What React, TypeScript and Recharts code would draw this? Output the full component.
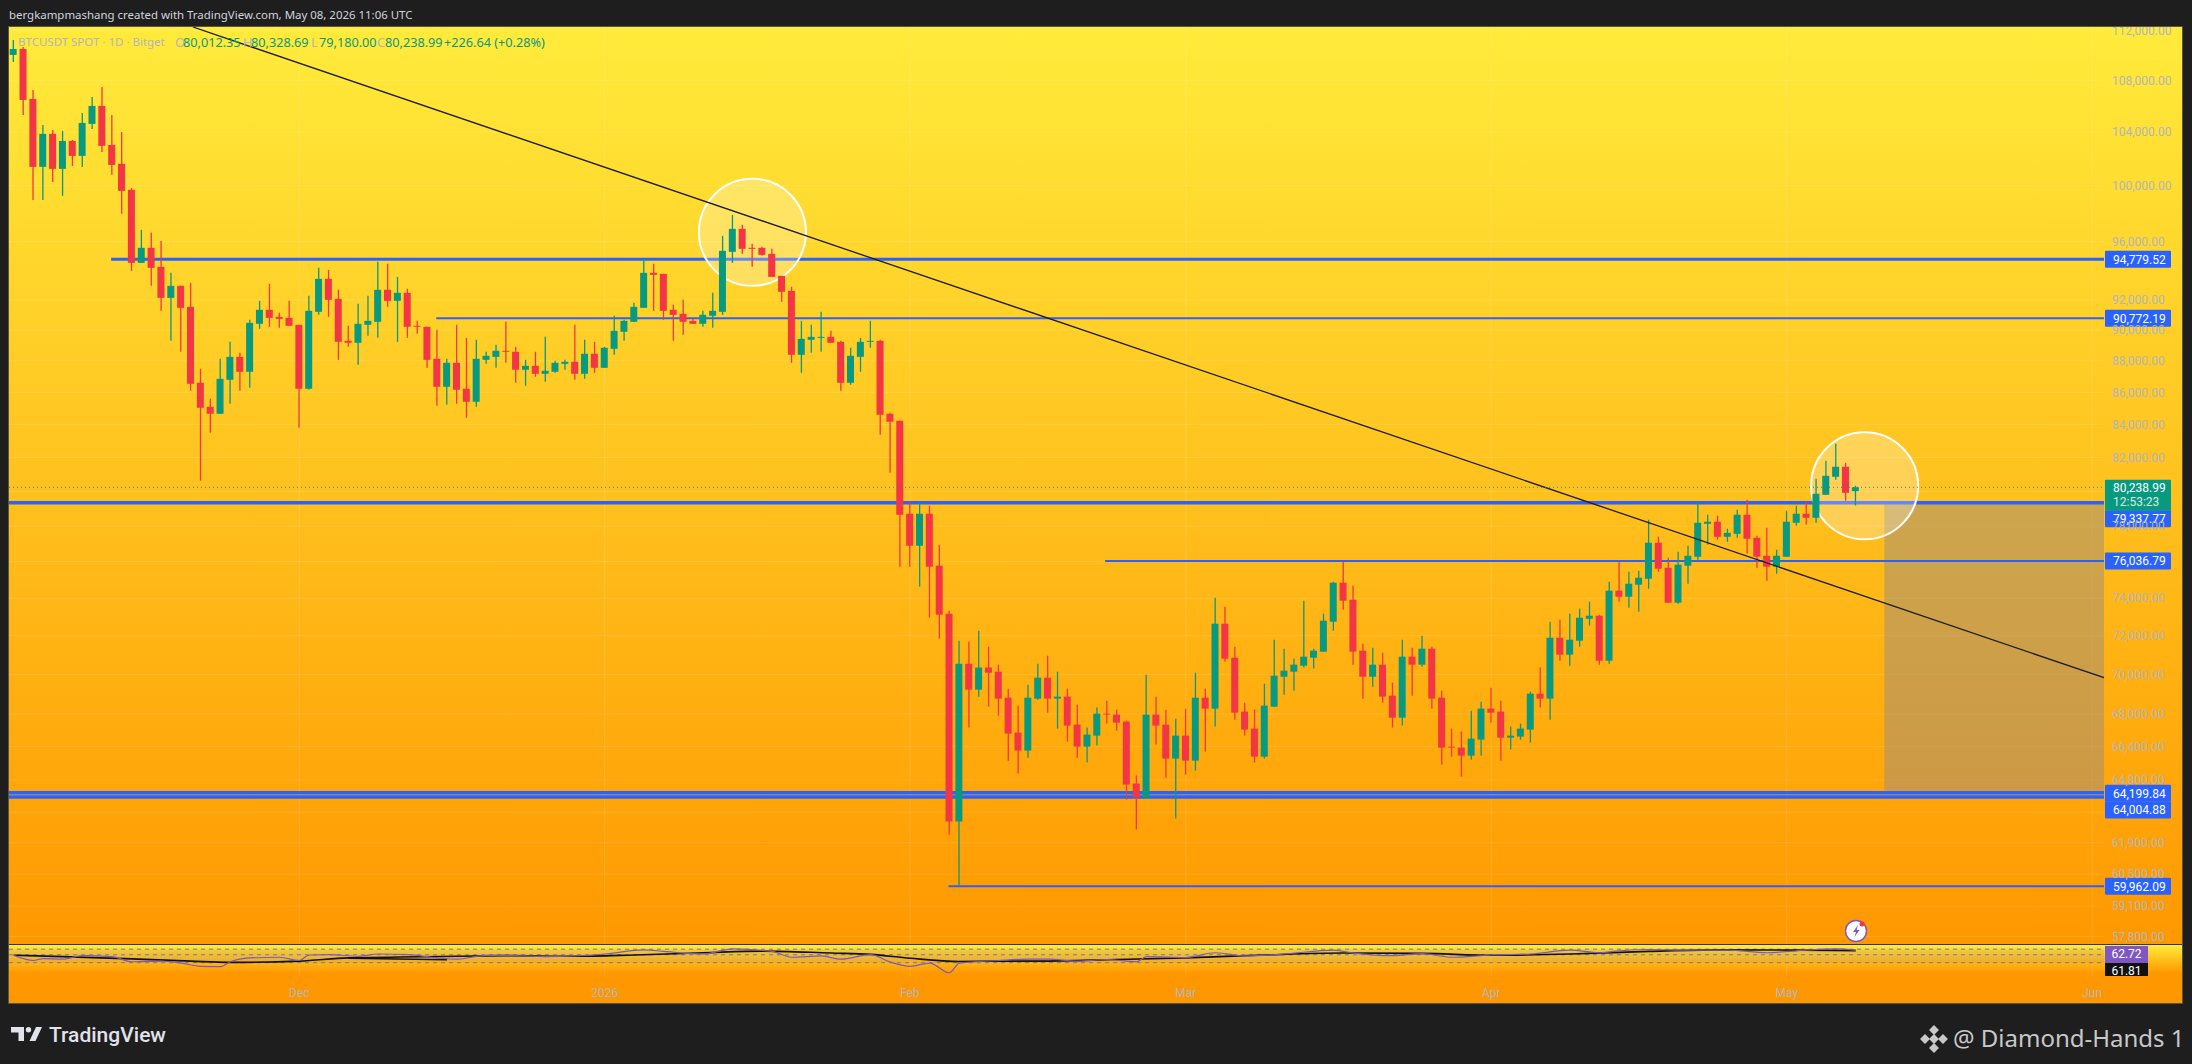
import {
  ComposedChart,
  Bar,
  Line,
  Cell,
  XAxis,
  YAxis,
  CartesianGrid,
  ReferenceLine,
  ReferenceArea,
  ReferenceDot,
} from 'recharts';

// daily candles, day 0 = Nov 2 2025
const opens = [
  110020, 110500, 106540, 101386, 103857, 101239, 103324, 102202, 104617, 106000,
  103025, 101607, 99699, 94525, 95567, 94251, 92141, 92953, 91539, 86601,
  85098, 84664, 86790, 88256, 87300, 90410, 91339, 90872, 90805, 90344,
  86224, 91205, 93427, 92073, 89295, 89166, 90344, 90541, 92683, 91939,
  92480, 90278, 90213, 88130, 86350, 87874, 86224, 85408, 88065, 88256,
  88648, 88583, 87427, 87682, 87172, 87300, 87810, 87937, 87172, 88454,
  87555, 88777, 89885, 90541, 91472, 93839, 93771, 91339, 91072, 90606,
  90410, 90939, 91205, 95288, 96901, 95567, 95567, 95149, 93630, 92615,
  88389, 89360, 89490, 89555, 89230, 86601, 88256, 89230, 89295, 84664,
  84232, 78705, 76890, 78705, 75776, 73166, 62866, 70545, 69220, 70346,
  70134, 68816, 67084, 66208, 68766, 69826, 68766, 68867, 67476, 66401,
  66936, 68019, 67970, 67623, 64632, 63973, 67970, 67476, 65821, 66936,
  65725, 68816, 68268, 72634, 70854, 68119, 67280, 65916, 68367, 69877,
  70134, 70442, 70854, 71166, 72739, 74840, 73918, 71218, 69877, 70494,
  68916, 67820, 70906, 70494, 71322, 68816, 66401, 66353, 65964, 66740,
  68268, 68119, 66838, 66887, 67231, 69019, 68766, 71895, 71010, 71738,
  72898, 73059, 70699, 74405, 74080, 74731, 75058, 77057, 75665, 73756,
  75776, 76273, 78133, 78247, 77393, 77560, 78648, 77337, 76328, 75720,
  76273, 78190, 78705, 78474, 79802, 80857, 81453, 80012.35,
];
const highs = [
  111225, 110660, 107245, 104541, 104161, 104085, 103399, 105461, 106698, 107480,
  105307, 104009, 99845, 96831, 96619, 96054, 93839, 92953, 93156, 87491,
  85595, 88130, 89230, 88518, 90672, 91939, 93089, 91139, 91939, 90344,
  92276, 94182, 94045, 92683, 90278, 91739, 92276, 94594, 94457, 93562,
  92750, 90606, 90213, 90016, 88130, 90344, 89490, 89360, 88583, 89036,
  90541, 88906, 88065, 88583, 89555, 88001, 88065, 90344, 89360, 89230,
  88906, 90939, 90672, 91806, 94800, 94457, 93771, 91672, 92006, 90739,
  91272, 92480, 96407, 97893, 97184, 95846, 95637, 95497, 93630, 92886,
  90606, 90344, 91205, 89950, 89295, 88842, 89490, 90606, 89360, 84726,
  84232, 79398, 79340, 79167, 76946, 73327, 71738, 71686, 72264, 71426,
  70494, 69270, 68417, 69473, 70545, 70958, 70134, 69270, 68467, 67329,
  68318, 68666, 68218, 67672, 65010, 69978, 68867, 68218, 67770, 68268,
  70083, 69270, 74026, 73542, 71426, 68567, 68218, 69523, 71790, 71322,
  70802, 73864, 71322, 73166, 74894, 75997, 74677, 71582, 71374, 71114,
  69574, 71790, 71374, 72000, 71426, 69170, 67280, 67132, 68168, 68617,
  69321, 68666, 67378, 67525, 69120, 70346, 72739, 72845, 73166, 73435,
  73811, 73112, 74894, 75997, 75445, 75500, 78360, 77393, 76217, 76553,
  76890, 79398, 78648, 78590, 77850, 78937, 79513, 77449, 77906, 76666,
  78880, 79167, 79398, 80740, 81809, 82830, 81690, 80328.69,
];
const lows = [
  109455, 105307, 98970, 98970, 100281, 99262, 101460, 101386, 104237, 102501,
  100796, 97968, 93976, 94525, 92953, 91272, 89295, 88583, 86098, 80624,
  83499, 84664, 85284, 86098, 86287, 90082, 90213, 90147, 90278, 83804,
  86161, 91005, 90872, 88065, 88906, 87746, 89622, 89490, 91539, 89230,
  89490, 89754, 87555, 85160, 85222, 85284, 84416, 85098, 87810, 87555,
  87874, 86601, 86413, 86979, 86664, 87236, 87427, 86790, 86853, 87236,
  87555, 88389, 89295, 90541, 91472, 91272, 90672, 89295, 89688, 90410,
  90213, 90147, 91005, 94525, 95149, 94251, 95009, 93562, 91873, 87874,
  87236, 88518, 88583, 89166, 86098, 86475, 87300, 88842, 83377, 81097,
  75720, 75720, 74623, 72952, 71843, 62268, 59998, 67329, 68867, 68367,
  67920, 65725, 65105, 65869, 68716, 68068, 67280, 66643, 65869, 65630,
  66450, 67525, 67181, 63881, 62500, 63973, 66498, 64914, 63003, 65055,
  65248, 66159, 67378, 70647, 67721, 66936, 65630, 65821, 68367, 68968,
  69170, 70346, 70296, 71166, 72264, 73381, 70494, 68766, 69371, 68567,
  67329, 67427, 68916, 70391, 68268, 65535, 65916, 64961, 65773, 65964,
  67574, 65725, 66256, 66740, 66595, 68318, 67721, 70699, 70442, 71426,
  72528, 70494, 70545, 73811, 73488, 73274, 74514, 75445, 73756, 73703,
  74786, 76107, 76946, 77225, 77113, 77337, 76442, 75665, 74949, 75334,
  76273, 78019, 78076, 78190, 79802, 80682, 79455, 79180,
];
const closes = [
  110500, 106462, 101386, 103857, 101239, 103324, 102202, 104693, 106000, 102950,
  101533, 99626, 94525, 95567, 94182, 92141, 92953, 91472, 86538, 85036,
  84664, 86853, 88256, 87300, 90477, 91339, 90805, 90739, 90278, 86224,
  91272, 93427, 92006, 89230, 89166, 90410, 90606, 92683, 91939, 92480,
  90213, 90213, 88065, 86350, 87874, 86161, 85408, 88130, 88324, 88648,
  88583, 87427, 87682, 87172, 87363, 87874, 87937, 87172, 88454, 87555,
  88842, 89950, 90606, 91539, 93839, 93702, 91272, 91005, 90541, 90410,
  91005, 91272, 95358, 96901, 95497, 95497, 95079, 93562, 92548, 88389,
  89425, 89555, 89555, 89166, 86601, 88324, 89230, 89295, 84602, 84171,
  78648, 76890, 78705, 75720, 73112, 62866, 70545, 69220, 70346, 70083,
  68766, 67035, 66208, 68816, 69826, 68766, 68867, 67427, 66401, 66985,
  68019, 67970, 67574, 64585, 63973, 67970, 67427, 65821, 66936, 65725,
  68816, 68268, 72634, 70802, 68068, 67231, 65916, 68417, 69927, 70186,
  70494, 70906, 71218, 72792, 74840, 73864, 71166, 69877, 70494, 68867,
  67820, 70906, 70494, 71322, 68766, 66353, 66353, 65964, 66789, 68268,
  68068, 66838, 66936, 67280, 69019, 68766, 71895, 71010, 71790, 72952,
  73059, 70699, 74405, 74080, 74786, 75114, 77057, 75610, 73756, 75831,
  76328, 78190, 78247, 77393, 77616, 78648, 77281, 76273, 75720, 76328,
  78247, 78705, 78474, 79860, 80916, 81453, 79917, 80238.99,
];

const priceTicks = [
  112000, 108000, 104000, 100000, 96000, 92000, 90000, 88000, 86000, 84000, 82000, 78000,
  74000, 72000, 70000, 68000, 66400, 64800, 61900, 60500, 59100, 57800,
];
const gridPrices = [...priceTicks, 80000, 76000, 63300];
const monthTicks = [29, 60, 91, 119, 150, 180, 211];
const monthLabels = ['Dec', '2026', 'Feb', 'Mar', 'Apr', 'May', 'Jun'];

const levelPrices = [94779.52, 90772.19, 79337.77, 76036.79, 64199.84, 64004.88, 59962.09];
const levelStartDays = [9.9, 42.9, -0.467, 110.8, -0.467, -0.467, 94.9];

const rsiDays = [
  0, 2, 3, 5, 7, 10, 12, 15, 17, 19, 21, 22, 24, 27, 29, 30, 32, 35, 37, 40, 43, 45, 48, 50, 54, 57,
  60, 64, 66, 70, 73, 77, 79, 82, 84, 87, 89, 91, 93, 95, 96, 100, 103, 105, 108, 111, 114, 115, 119,
  122, 125, 129, 134, 136, 140, 143, 146, 150, 154, 158, 161, 163, 166, 170, 174, 178, 181, 185, 187,
];
const rsiValues = [
  53, 43.2, 46.9, 45.7, 52.4, 50.5, 40.8, 42, 38.4, 32.3, 31.7, 40.8, 48.1, 49.3, 43.2, 53.6, 54.2, 51.1,
  55.4, 54.2, 48.1, 45.7, 53, 53, 50.5, 51.8, 55.4, 63.3, 60.3, 55.4, 65.1, 60.3, 49.3, 51.8, 45.7, 54.2,
  40.2, 32.3, 38.4, 20.1, 38.4, 43.2, 45.7, 45.7, 42, 45.1, 40.8, 50.5, 48.7, 57.8, 51.8, 55.4, 62.7, 57.2,
  52.4, 56, 49.3, 53.6, 55.4, 62.7, 57.8, 61.5, 63.9, 62.7, 62.7, 57.8, 61.5, 65.1, 62.72,
];
const maDays = [0, 5, 12, 18, 22, 29, 34, 45, 50, 57, 63, 70, 76, 83, 87, 91, 96, 100, 104, 112, 119, 127, 135, 143, 150, 158, 166, 173, 181, 187];
const maValues = [53, 50.5, 46.3, 42, 39.6, 42, 48.1, 51.1, 52.4, 51.1, 53.6, 57.8, 60.9, 57.2, 54.8, 47.5, 41.4, 42, 42, 45.1, 48.1, 53.6, 57.2, 56.6, 53, 55.4, 60.3, 63.3, 62.7, 61.81];
const sideDays = [34, 44];
const sideValues = [47.5, 44.5];
const rsiBands = [64.5, 54, 39];

const GREEN = '#089981';
const RED = '#f23645';
const BLUE = '#2962ff';
const AXIS_TEXT = '#b2b5be';
const FONT = 'Roboto, sans-serif';

const xDomain = [-0.467, 212.2];
const priceDomain = [57490, 112286];
const levelWidths = [3, 2, 3.6, 2, 3.5, 3.5, 2];
const tagOffsets = [0, 0, 16, 0, 0.5, 13, 0];

const candles = opens.map((open, i) => ({
  day: i,
  wick: [lows[i], highs[i]],
  body: [Math.min(open, closes[i]), Math.max(open, closes[i])],
  up: closes[i] >= open,
}));
const rsiLine = rsiDays.map((day, i) => ({ day, value: rsiValues[i] }));
const maLine = maDays.map((day, i) => ({ day, value: maValues[i] }));
const sideLine = sideDays.map((day, i) => ({ day, value: sideValues[i] }));

const money = (v: number) => v.toLocaleString('en-US', { minimumFractionDigits: 2, maximumFractionDigits: 2 });

function PriceTag({ viewBox, text, dy, fill }: any) {
  const y = viewBox.y + dy;
  return (
    <g>
      <rect x={2096} y={y - 8.5} width={66} height={17} fill={fill} rx={1} />
      <text x={2104} y={y + 4.5} fill="#fff" fontSize={12} fontFamily={FONT}>{text}</text>
    </g>
  );
}

function LastPriceTag({ viewBox }: any) {
  const y = viewBox.y;
  return (
    <g>
      <rect x={2096} y={y - 7.5} width={66} height={31} fill={GREEN} rx={1} />
      <text x={2104} y={y + 4.5} fill="#fff" fontSize={12} fontFamily={FONT}>80,238.99</text>
      <text x={2104} y={y + 18.5} fill="#d6ebe5" fontSize={12} fontFamily={FONT}>12:53:23</text>
    </g>
  );
}

function Legend() {
  const item = (label: string, value: string, left: number) => (
    <>
      <span style={{ position: 'absolute', left, color: AXIS_TEXT }}>{label}</span>
      <span style={{ position: 'absolute', left: left + 8, color: GREEN }}>{value}</span>
    </>
  );
  return (
    <div style={{ position: 'absolute', left: 9, top: 33, height: 18, lineHeight: '18px', fontSize: 12.7, fontFamily: '"Noto Sans", sans-serif', whiteSpace: 'nowrap' }}>
      <span style={{ position: 'absolute', left: 9, color: AXIS_TEXT, fontSize: 11.5 }}>BTCUSDT SPOT · 1D · Bitget</span>
      {item('O', '80,012.35', 166)}
      {item('H', '80,328.69', 234)}
      {item('L', '79,180.00', 302)}
      {item('C', '80,238.99', 368)}
      <span style={{ position: 'absolute', left: 435, color: GREEN }}>+226.64 (+0.28%)</span>
    </div>
  );
}

function Tag({ top, height, fill, text }: { top: number; height: number; fill: string; text: string }) {
  return (
    <div style={{ position: 'absolute', left: 2096, top, width: 43, height, background: fill, color: '#fff', fontSize: 12, fontFamily: FONT, lineHeight: '17px', textAlign: 'center', overflow: 'hidden' }}>
      {text}
    </div>
  );
}

export default function App() {
  return (
    <div style={{ position: 'absolute', left: 0, top: 0, width: 2192, height: 1064, background: '#1e1e1e', overflow: 'hidden' }}>
      <div style={{ position: 'absolute', left: 9, top: 6, fontSize: 11.45, lineHeight: '18px', color: '#d1d4dc', fontFamily: '"Noto Sans", sans-serif', whiteSpace: 'nowrap' }}>
        bergkampmashang created with TradingView.com, May 08, 2026 11:06 UTC
      </div>

      <div style={{ position: 'absolute', left: 9, top: 27, width: 2173, height: 976, overflow: 'hidden', boxShadow: '0 0 0 1px #55554a', background: '#ff9800' }}>
        <div style={{ position: 'absolute', left: 0, top: 0, width: 2173, height: 917, overflow: 'hidden', background: 'linear-gradient(#ffeb3b, #ff9800)' }}>
          <ComposedChart width={2173} height={917} data={candles} margin={{ top: 0, right: 0, bottom: 0, left: 0 }}>
            <XAxis xAxisId="wick" dataKey="day" type="number" domain={xDomain} allowDataOverflow hide />
            <XAxis xAxisId="body" dataKey="day" type="number" domain={xDomain} allowDataOverflow hide />
            <YAxis
              orientation="right"
              width={78}
              scale="log"
              domain={priceDomain}
              allowDataOverflow
              ticks={priceTicks}
              interval={0}
              axisLine={false}
              tickLine={false}
              tickSize={0}
              tickMargin={8}
              tickFormatter={money}
              tick={{ fill: AXIS_TEXT, fontSize: 12, fontFamily: FONT }}
            />
            <CartesianGrid xAxisId="body" stroke="rgba(255,255,255,0.13)" verticalValues={monthTicks} horizontalValues={gridPrices} />

            <ReferenceArea xAxisId="body" x1={189.9} x2={212.2} y1={64300} y2={79337.77} fill="rgba(155,140,125,0.5)" fillOpacity={1} stroke="none" ifOverflow="visible" zIndex={50} />

            {levelPrices.map((price, i) => (
              <ReferenceLine
                key={price}
                xAxisId="body"
                ifOverflow="visible"
                zIndex={100}
                segment={[{ x: levelStartDays[i], y: price }, { x: xDomain[1], y: price }]}
                stroke={BLUE}
                strokeWidth={levelWidths[i]}
                label={(props: any) => <PriceTag {...props} text={money(price)} dy={tagOffsets[i]} fill={BLUE} />}
              />
            ))}
            <ReferenceDot xAxisId="body" x={75} y={96660} r={53.5} fill="rgba(255,255,255,0.25)" stroke="#fff" strokeWidth={2} ifOverflow="visible" zIndex={200} />
            <ReferenceDot xAxisId="body" x={187.9} y={80328} r={53.5} fill="rgba(255,255,255,0.25)" stroke="#fff" strokeWidth={2} ifOverflow="visible" zIndex={200} />

            <Bar xAxisId="wick" dataKey="wick" barSize={1.3} isAnimationActive={false} zIndex={300}>
              {candles.map((c) => <Cell key={c.day} fill={c.up ? GREEN : RED} />)}
            </Bar>
            <Bar xAxisId="body" dataKey="body" barSize={7} isAnimationActive={false} zIndex={300}>
              {candles.map((c) => <Cell key={c.day} fill={c.up ? GREEN : RED} />)}
            </Bar>

            <ReferenceLine
              xAxisId="body"
              ifOverflow="visible"
              zIndex={400}
              segment={[{ x: 18.2, y: priceDomain[1] }, { x: xDomain[1], y: 69826 }]}
              stroke="#1c1c1c"
              strokeWidth={1.3}
            />
            <ReferenceLine
              xAxisId="body"
              ifOverflow="visible"
              zIndex={400}
              segment={[{ x: xDomain[0], y: closes[187] }, { x: xDomain[1], y: closes[187] }]}
              stroke={GREEN}
              strokeDasharray="1 3"
              label={(props: any) => <LastPriceTag {...props} />}
            />
          </ComposedChart>

          <svg style={{ position: 'absolute', left: 1836, top: 892 }} width={24} height={25}>
            <circle cx={11} cy={12} r={10.5} fill="#fff" stroke="#7e57c2" strokeWidth={1.5} />
            <path d="M13 6 L8 13 L11 13 L9.5 18 L14.5 11 L11.5 11 Z" fill="#7e57c2" />
            <circle cx={17} cy={5} r={2.5} fill="#f23645" />
          </svg>
        </div>

        <div style={{ position: 'absolute', left: 0, top: 917, width: 2173, height: 59, borderTop: '1px solid #333', boxSizing: 'border-box', background: 'linear-gradient(#ffeb3b 0, #ff9800 28px)' }}>
          <ComposedChart width={2173} height={58} margin={{ top: 0, right: 78, bottom: 0, left: 0 }}>
            <XAxis
              dataKey="day"
              type="number"
              domain={xDomain}
              allowDataOverflow
              height={27}
              ticks={monthTicks}
              interval={0}
              axisLine={false}
              tickLine={false}
              tickMargin={6}
              tickFormatter={(_v: number, i: number) => monthLabels[i]}
              tick={{ fill: AXIS_TEXT, fontSize: 12, fontFamily: FONT }}
            />
            <YAxis hide domain={[14, 72.4]} allowDataOverflow />
            <CartesianGrid stroke="rgba(255,255,255,0.13)" horizontal={false} verticalValues={monthTicks} />
            <ReferenceArea y1={rsiBands[2]} y2={rsiBands[0]} fill="rgba(126,87,194,0.13)" fillOpacity={1} stroke="none" />
            {rsiBands.map((band) => (
              <ReferenceLine key={band} y={band} stroke="#787b86" strokeDasharray="4 4" />
            ))}
            <Line data={maLine} dataKey="value" stroke="#111" strokeWidth={1.6} dot={false} type="monotone" isAnimationActive={false} />
            <Line data={sideLine} dataKey="value" stroke="#111" strokeWidth={1.6} dot={false} type="linear" isAnimationActive={false} />
            <Line data={rsiLine} dataKey="value" stroke="#7e57c2" strokeWidth={1.2} dot={false} type="monotone" isAnimationActive={false} />
          </ComposedChart>
        </div>

        <Tag top={919} height={17} fill="#7e57c2" text="62.72" />
        <Tag top={936} height={13} fill="#111" text="61.81" />
      </div>

      <Legend />

      <svg style={{ position: 'absolute', left: 0, top: 1020 }} width={50} height={30}>
        <path d="M11 7 H24 V21 H18.5 V12.5 H11 Z" fill="#e0e3eb" />
        <circle cx={28.5} cy={9.7} r={2.7} fill="#e0e3eb" />
        <path d="M36 7 H42 L35.5 21 H29.5 Z" fill="#e0e3eb" />
      </svg>
      <div style={{ position: 'absolute', left: 49, top: 1021, fontSize: 21, lineHeight: '28px', fontWeight: 500, color: '#e0e3eb', fontFamily: FONT }}>TradingView</div>

      <svg style={{ position: 'absolute', left: 1919, top: 1024 }} width={32} height={30}>
        {[[15, 6], [6, 15], [24, 15], [15, 15], [15, 24]].map(([cx, cy]) => (
          <rect key={`${cx}-${cy}`} x={cx - 3.5} y={cy - 3.5} width={7} height={7} fill="#c8c8c8" transform={`rotate(45 ${cx} ${cy})`} />
        ))}
      </svg>
      <div style={{ position: 'absolute', left: 1953, top: 1021, fontSize: 24, lineHeight: '34px', color: '#c8c8c8', fontFamily: '"Noto Sans", sans-serif', whiteSpace: 'nowrap' }}>
        @ Diamond-Hands 1
      </div>
    </div>
  );
}
